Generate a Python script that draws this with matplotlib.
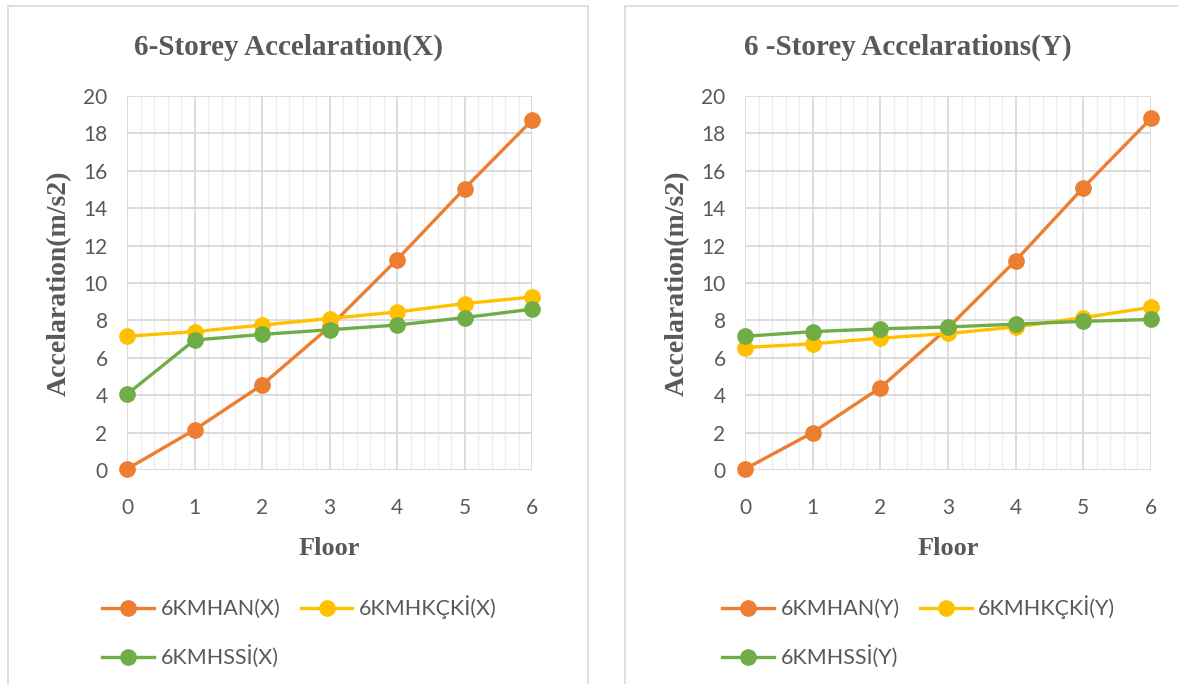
import matplotlib
matplotlib.use('Agg')
import matplotlib.pyplot as plt
from matplotlib.patches import Rectangle
from matplotlib.ticker import MultipleLocator

# floor numbers
floors = [0, 1, 2, 3, 4, 5, 6]

# X direction
han_x = [0.05, 2.15, 4.55, 7.65, 11.25, 15.05, 18.7]
kcki_x = [7.15, 7.4, 7.75, 8.1, 8.45, 8.9, 9.25]
ssi_x = [4.05, 6.95, 7.25, 7.5, 7.75, 8.15, 8.6]

# Y direction
han_y = [0.05, 2.0, 4.4, 7.6, 11.2, 15.1, 18.8]
kcki_y = [6.55, 6.75, 7.05, 7.3, 7.65, 8.15, 8.7]
ssi_y = [7.15, 7.4, 7.55, 7.65, 7.8, 7.95, 8.05]

labels_x = ['6KMHAN(X)', '6KMHKÇKİ(X)', '6KMHSSİ(X)']
labels_y = ['6KMHAN(Y)', '6KMHKÇKİ(Y)', '6KMHSSİ(Y)']
titles = ['6-Storey Accelaration(X)', '6 -Storey Accelarations(Y)']

colors = ['#ED7D31', '#FFC000', '#70AD47']
txt_color = '#595959'
grid_color = '#D9D9D9'

W, H = 1178, 684
fig = plt.figure(figsize=(W / 100, H / 100), dpi=100)


def px(x0, y0, x1, y1):
    # pixel box -> figure fraction
    return [x0 / W, 1 - y1 / H, (x1 - x0) / W, (y1 - y0) / H]


def draw_panel(box, axbox, title, series, labels, leg_pos, title_x):
    fig.add_artist(Rectangle((box[0], box[1]), box[2], box[3], transform=fig.transFigure,
                             fill=False, edgecolor=grid_color, linewidth=1.2))
    ax = fig.add_axes(axbox)
    lines = []
    for vals, c, lab in zip(series, colors, labels):
        ln, = ax.plot(floors, vals, color=c, lw=2.4, marker='o', markersize=11,
                      label=lab, clip_on=False)
        lines.append(ln)
    ax.set_xlim(0, 6)
    ax.set_ylim(0, 20)
    ax.xaxis.set_major_locator(MultipleLocator(1))
    ax.xaxis.set_minor_locator(MultipleLocator(0.2))
    ax.yaxis.set_major_locator(MultipleLocator(2))
    ax.grid(True, which='major', color=grid_color, lw=1.3)
    ax.grid(True, which='minor', axis='x', color='#EDEDED', lw=1.0)
    ax.set_axisbelow(True)
    for s in ax.spines.values():
        s.set_visible(False)
    ax.tick_params(which='both', length=0, labelsize=15, labelcolor=txt_color)
    ax.tick_params(axis='x', pad=20)
    ax.tick_params(axis='y', pad=14)
    for t in ax.get_xticklabels() + ax.get_yticklabels():
        t.set_family('Lato')
    ax.set_xlabel('Floor', fontsize=19, fontweight='bold', color=txt_color,
                  family='Liberation Serif', labelpad=14)
    ax.set_ylabel('Accelaration(m/s2)', fontsize=20, fontweight='bold', color=txt_color,
                  family='Liberation Serif', labelpad=8)
    fig.text(title_x, 1 - 47 / H, title, ha='center', va='center', fontsize=21,
             fontweight='bold', color=txt_color, family='Liberation Serif')
    # row-major order like the original: HAN, KÇKİ / SSİ
    h = [lines[0], lines[2], lines[1]]
    fig.legend(h, [x.get_label() for x in h], loc='upper left', bbox_to_anchor=leg_pos,
               ncol=2, frameon=False, prop={'family': 'Lato', 'size': 15.5},
               labelcolor=txt_color, handlelength=2.4, handletextpad=0.3,
               columnspacing=0.95, labelspacing=1.2)
    return ax


draw_panel(px(8, 6, 588, 690), px(127, 96, 532, 470), titles[0],
           [han_x, kcki_x, ssi_x], labels_x, (83 / W, 1 - 576 / H), 288 / W)
draw_panel(px(625, 6, 1185, 690), px(745, 96, 1151, 470), titles[1],
           [han_y, kcki_y, ssi_y], labels_y, (703 / W, 1 - 576 / H), 908 / W)

fig.savefig('out.png', dpi=100, facecolor='white')
